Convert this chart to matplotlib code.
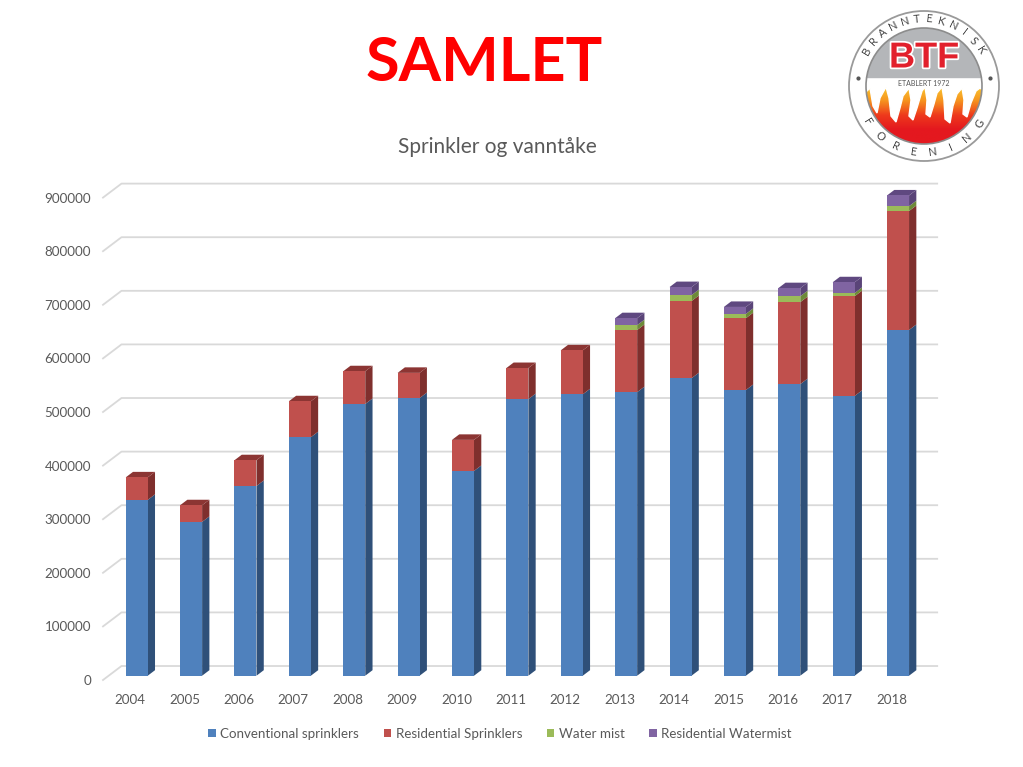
import numpy as np
import matplotlib
matplotlib.use('Agg')
import matplotlib.pyplot as plt
import matplotlib.patheffects as pe
from matplotlib.patches import Circle, Polygon, Rectangle

plt.rcParams['font.family'] = ['Lato', 'DejaVu Sans']

years = [str(y) for y in range(2004, 2019)]
conventional = [328000, 287000, 354000, 445000, 507000, 518000, 382000, 516000, 525000, 529000, 555000, 533000, 544000, 522000, 645000]
residential = [42000, 31000, 48000, 67000, 61000, 47000, 58000, 58000, 82000, 116000, 144000, 134000, 153000, 186000, 222000]
water_mist = [0, 0, 0, 0, 0, 0, 0, 0, 0, 9000, 11000, 8000, 11000, 6000, 9000]
res_watermist = [0, 0, 0, 0, 0, 0, 0, 0, 0, 13000, 15000, 13000, 15000, 20000, 20000]
series = [conventional, residential, water_mist, res_watermist]
names = ['Conventional sprinklers', 'Residential Sprinklers', 'Water mist', 'Residential Watermist']
front = ['#4f81bd', '#c0504d', '#9bbb59', '#8064a2']
side = ['#2f5079', '#7f2f2d', '#6d8a38', '#5a4478']
top_col = ['#375d8c', '#8c3533', '#7c9a42', '#5f4880']

W, H = 1023, 767
GREY = '#595959'
# fake 3D: depth offsets in data units (x = categories, y = values)
back_dx, back_dy = 0.34, 26100
bar_dx, bar_dy = 0.12, 8000
depth_dx, depth_dy = 0.134, 10300
bar_w = 0.405

fig = plt.figure(figsize=(W / 100, H / 100), dpi=100, facecolor='white')
ax = fig.add_axes([103 / W, (H - 680) / H, 815.7 / W, 482.4 / H])
ax.set_xlim(-0.5, 14.5)
ax.set_ylim(0, 900000)
for s in ax.spines.values():
    s.set_visible(False)
ax.set_xticks(range(len(years)))
ax.set_xticklabels(years)
ax.set_yticks(range(0, 900001, 100000))
ax.tick_params(length=0, labelsize=9.6, labelcolor=GREY)
ax.tick_params(axis='y', pad=8.5)
ax.tick_params(axis='x', pad=10)

# back wall grid lines with the slanted side wall part
for v in range(0, 900001, 100000):
    ax.plot([-0.5, -0.5 + back_dx, 14.5 + back_dx],
            [v, v + back_dy, v + back_dy],
            color='#d9d9d9', lw=1.3, clip_on=False, zorder=1)

xs = np.arange(len(years))
bottoms = np.zeros(len(years))
handles = []
for k, vals in enumerate(series):
    vals = np.array(vals, dtype=float)
    b = ax.bar(xs + bar_dx, vals, bar_w, bottom=bottoms + bar_dy, color=front[k],
               label=names[k], zorder=4, clip_on=False)
    handles.append(b)
    for i in range(len(xs)):
        if vals[i] == 0:
            continue
        xr = xs[i] + bar_dx + bar_w / 2
        y0 = bottoms[i] + bar_dy
        y1 = y0 + vals[i]
        ax.fill([xr, xr + depth_dx, xr + depth_dx, xr],
                [y0, y0 + depth_dy, y1 + depth_dy, y1],
                color=side[k], lw=0, zorder=3, clip_on=False)
    bottoms = bottoms + vals

# top faces take the colour of the highest segment of each bar
for i in range(len(xs)):
    k = max(j for j in range(4) if series[j][i] > 0)
    xl = xs[i] + bar_dx - bar_w / 2
    xr = xl + bar_w
    yt = bottoms[i] + bar_dy
    ax.fill([xl, xr, xr + depth_dx, xl + depth_dx],
            [yt, yt, yt + depth_dy, yt + depth_dy],
            color=top_col[k], lw=0, zorder=3, clip_on=False)

leg = fig.legend(handles=handles, loc='center', bbox_to_anchor=(500 / W, (H - 734) / H),
                 ncol=4, frameon=False, fontsize=9.6, labelcolor=GREY,
                 handlelength=0.55, handleheight=0.55, handletextpad=0.35, columnspacing=1.85)

fig.text(484 / W, (H - 63) / H, 'SAMLET', color='#ff0000', fontsize=44, fontweight='bold',
         ha='center', va='center')
fig.text(497 / W, (H - 147) / H, 'Sprinkler og vanntåke', color=GREY, fontsize=15,
         ha='center', va='center')

# logo, drawn in its own pixel-sized axes
cx, cy, R = 924, 86, 78
lg = fig.add_axes([(cx - R) / W, (H - cy - R) / H, 2 * R / W, 2 * R / H])
lg.set_xlim(-R, R)
lg.set_ylim(-R, R)
lg.axis('off')
r_in = 58
disc = Circle((0, 0), r_in, color='white', zorder=1)
lg.add_patch(disc)
grey = Rectangle((-r_in, 9), 2 * r_in, r_in, color='#b4b6b9', zorder=1.5)
lg.add_patch(grey)
grey.set_clip_path(disc)
grad = np.linspace(0, 1, 64).reshape(-1, 1)
cmap = matplotlib.colors.LinearSegmentedColormap.from_list('flame', ['#f9c82f', '#f6931f', '#ee3a1c', '#e4181f', '#e4181f'])
im = lg.imshow(grad, extent=[-r_in, r_in, -r_in, 0], cmap=cmap, aspect='auto', zorder=2)
im.set_clip_path(disc)
# white gaps between the flames
gaps = [(-60, 5), (-60, -8), (-54, -2), (-51, -20), (-47, -27), (-44, -12), (-38, -1), (-35, -12), (-33, -30),
        (-28, -36), (-24, -22), (-21, -10), (-15, -2), (-13, -14), (-15, -30), (-11, -34), (-7, -22), (-2, -5),
        (1, -1), (3, -14), (2, -28), (6, -31), (10, -18), (13, -7), (18, -1), (20, -14), (21, -33), (26, -37),
        (29, -20), (33, -8), (38, -2), (40, -14), (39, -28), (43, -31), (47, -17), (52, -5), (56, -2), (60, -5),
        (60, 5)]
white = Polygon(gaps, color='white', zorder=2.5)
lg.add_patch(white)
white.set_clip_path(disc)
lg.set_xlim(-R, R)
lg.set_ylim(-R, R)
lg.add_patch(Circle((0, 0), r_in, fill=False, ec='#8c8c8c', lw=1.2, zorder=4))
lg.add_patch(Circle((0, 0), R - 3, fill=False, ec='#9a9a9a', lw=1.3, zorder=4))
lg.text(0, 28, 'BTF', color='#e2202c', fontsize=26, fontweight='bold',
        family='Liberation Sans', ha='center', va='center', zorder=5,
        path_effects=[pe.withStroke(linewidth=2.5, foreground='white')])
lg.text(0, 3, 'ETABLERT 1972', color='#555555', fontsize=5, ha='center', va='center', zorder=5)
for letter, ang in zip('BRANNTEKNISK', np.linspace(149, 32, 12)):
    a = np.radians(ang)
    lg.text(67 * np.cos(a), 67 * np.sin(a), letter, fontsize=8, color='#444444', ha='center', va='center',
            rotation=ang - 90, zorder=5)
for letter, ang in zip('FORENING', np.linspace(212.5, 326, 8)):
    a = np.radians(ang)
    lg.text(67 * np.cos(a), 67 * np.sin(a), letter, fontsize=8, color='#444444', ha='center', va='center',
            rotation=ang + 90, zorder=5)
lg.plot([-66, 66], [8, 8], ls='none', marker='o', ms=2, color='#555555', zorder=5)

fig.savefig('out.png', dpi=100, facecolor='white')
